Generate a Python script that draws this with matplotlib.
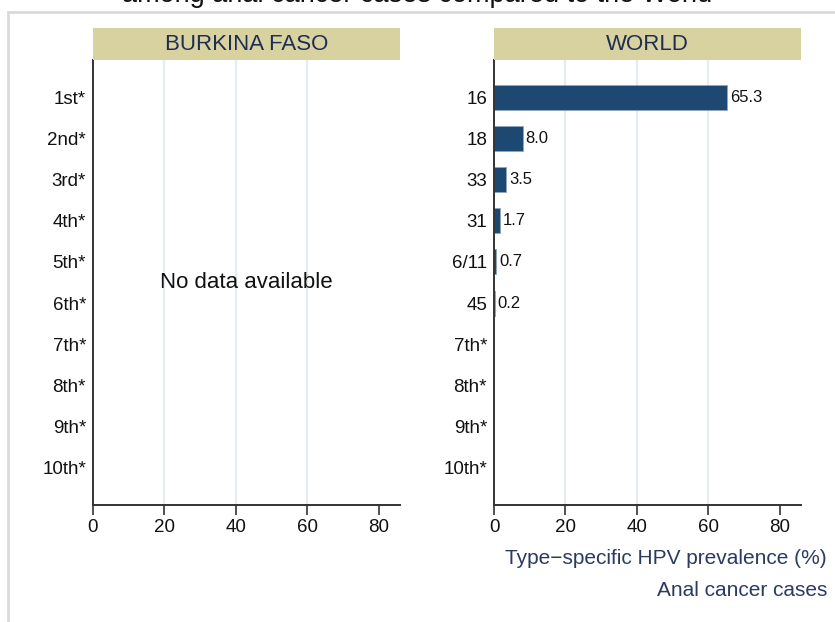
import matplotlib
matplotlib.use("Agg")
import matplotlib.pyplot as plt
from matplotlib.patches import Rectangle

plt.rcParams['font.family'] = ['Liberation Sans', 'DejaVu Sans']

left_labels = ["1st*", "2nd*", "3rd*", "4th*", "5th*", "6th*", "7th*", "8th*", "9th*", "10th*"]
world_types = ["16", "18", "33", "31", "6/11", "45", "7th*", "8th*", "9th*", "10th*"]
world_values = [65.3, 8.0, 3.5, 1.7, 0.7, 0.2]
panel_titles = ["BURKINA FASO", "WORLD"]
xticks = [0, 20, 40, 60, 80]
grid_x = [20, 40, 60]

W, H = 835, 622
fig = plt.figure(figsize=(W / 100, H / 100), dpi=100)

# outer light frame
fig.patches.append(Rectangle((8 / W, -0.05), 1.2, 1 - 12 / H + 0.05, transform=fig.transFigure,
                             fill=False, edgecolor='#DADADA', linewidth=2, zorder=0))

# clipped title (only bottom visible, as in the reference)
fig.text(0.5, 1 - 1.5 / H, "among anal cancer cases compared to the World", ha='center', va='baseline',
         fontsize=19.5, color='#111111')

bar_color = '#1D4871'
ax_bottom = 1 - 505 / H
ax_top = 1 - 60 / H
ax_h = ax_top - ax_bottom
strip_h = (60 - 28) / H
lefts = [93 / W, 494 / W]
ax_w = (400 - 93) / W

for i, (lx, title) in enumerate(zip(lefts, panel_titles)):
    ax = fig.add_axes([lx, ax_bottom, ax_w, ax_h])
    n = len(left_labels)
    ypos = list(range(n))
    ax.set_ylim(9.91, -0.91)
    ax.set_xlim(0, 86)
    for g in grid_x:
        ax.axvline(g, color='#E6EDF2', lw=1.6, zorder=0)
    ax.set_yticks(ypos)
    if i == 0:
        ax.set_yticklabels(left_labels)
        ax.text(43, 4.5, "No data available", ha='center', va='center', fontsize=16, color='#111111')
    else:
        ax.set_yticklabels(world_types)
        ax.barh(range(len(world_values)), world_values, height=0.61, color=bar_color,
                edgecolor='#8FA6BD', linewidth=0.6, zorder=2)
        for y, v in enumerate(world_values):
            ax.text(v + 0.8, y, f"{v:.1f}", va='center', ha='left', fontsize=12, color='#111111')
    ax.set_xticks(xticks)
    ax.tick_params(axis='y', length=0, labelsize=13.5, pad=5, colors='#111111')
    ax.tick_params(axis='x', length=7, width=1.2, labelsize=13.5, pad=3, colors='#111111', color='#333333')
    for s in ['top', 'right']:
        ax.spines[s].set_visible(False)
    for s in ['left', 'bottom']:
        ax.spines[s].set_color('#333333')
        ax.spines[s].set_linewidth(1.4)
    # strip
    fig.patches.append(Rectangle((lx, ax_top), ax_w, strip_h, transform=fig.transFigure,
                                 facecolor='#D8D1A0', edgecolor='none'))
    fig.text(lx + ax_w / 2, ax_top + strip_h / 2, title, ha='center', va='center',
             fontsize=16, color='#1F2D52')

fig.text(827 / W, 1 - 558 / H, "Type\u2212specific HPV prevalence (%)", ha='right', va='center',
         fontsize=15, color='#2B3A63')
fig.text(827 / W, 1 - 590 / H, "Anal cancer cases", ha='right', va='center',
         fontsize=15, color='#2B3A63')

fig.savefig("out.png", dpi=100)
